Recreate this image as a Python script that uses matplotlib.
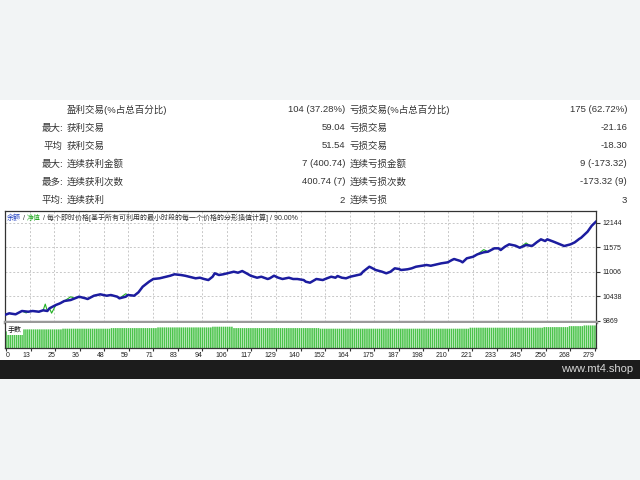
import numpy as np
import matplotlib
matplotlib.use("Agg")
import matplotlib.pyplot as plt
from matplotlib.patches import Rectangle

plt.rcParams['font.family'] = ['Liberation Sans', 'Noto Sans CJK SC', 'DejaVu Sans']

# ---------------- data ----------------
row_prefix = ["", "最大:", "平均", "最大:", "最多:", "平均:"]
left_label = ["盈利交易(%占总百分比)", "获利交易", "获利交易", "连续获利金额", "连续获利次数", "连续获利"]
left_value = ["104 (37.28%)", "59.04", "51.54", "7 (400.74)", "400.74 (7)", "2"]
right_label = ["亏损交易(%占总百分比)", "亏损交易", "亏损交易", "连续亏损金额", "连续亏损次数", "连续亏损"]
right_value = ["175 (62.72%)", "-21.16", "-18.30", "9 (-173.32)", "-173.32 (9)", "3"]

trade_idx = [0, 2, 5, 8, 11, 13, 16, 18, 20, 21, 24, 26, 28, 31, 33, 35, 38, 39, 42, 45,
             48, 50, 53, 54, 57, 58, 61, 63, 65, 68, 70, 73, 76, 78, 80, 83, 85, 87, 90, 92,
             94, 96, 98, 99, 101, 103, 105, 108, 110, 112, 114, 116, 119, 121, 124, 125, 127, 129, 131, 134,
             136, 138, 141, 142, 144, 147, 150, 152, 154, 156, 157, 159, 161, 163, 165, 168, 169, 172, 173, 175,
             178, 180, 182, 184, 186, 187, 190, 192, 194, 197, 199, 201, 204, 206, 209, 211, 212, 215, 216, 218,
             221, 223, 226, 228, 231, 233, 234, 236, 238, 241, 243, 246, 248, 249, 251, 253, 255, 256, 259, 262,
             264, 267, 269, 271, 272, 275, 277, 279]
balance = [10000, 10036, 10013, 10090, 10073, 10090, 10073, 10106, 10090, 10152, 10229, 10268, 10322, 10345, 10384, 10422, 10384, 10368, 10445, 10477,
           10445, 10461, 10422, 10384, 10422, 10461, 10445, 10524, 10654, 10770, 10833, 10849, 10886, 10909, 10942, 10926, 10909, 10886, 10849, 10863,
           10833, 10809, 10886, 10965, 10926, 10942, 10965, 11002, 10979, 11018, 10965, 10909, 10863, 10886, 10833, 10849, 10909, 10863, 10833, 10863,
           10833, 10833, 10809, 10770, 10747, 10833, 10809, 10849, 10886, 10863, 10902, 10863, 10849, 10886, 10909, 10942, 11002, 11118, 11095, 11042,
           11002, 10965, 11002, 11081, 11065, 11042, 11058, 11081, 11118, 11141, 11158, 11141, 11174, 11197, 11220, 11274, 11297, 11251, 11220, 11313,
           11350, 11406, 11453, 11467, 11545, 11545, 11506, 11583, 11638, 11606, 11559, 11622, 11606, 11606, 11685, 11754, 11715, 11754, 11699, 11638,
           11599, 11638, 11685, 11761, 11792, 11931, 12070, 12165]

equity_idx = [10, 19, 22, 31, 57, 226, 246]
equity_val = [10045, 10250, 10040, 10420, 10490, 11515, 11670]

lot_start = [0, 7, 27, 50, 72, 98, 108, 149, 220, 255, 267, 274]
lot_size = [0.17, 0.19, 0.197, 0.203, 0.21, 0.217, 0.203, 0.197, 0.207, 0.213, 0.223, 0.23]
n_trades = 280

x_tick_labels = ["0", "13", "25", "36", "48", "59", "71", "83", "94", "106", "117", "129", "140",
                 "152", "164", "175", "187", "198", "210", "221", "233", "245", "256", "268", "279"]
y_ticks = [9869, 10438, 11006, 11575, 12144]

header_parts = [("余额", "#2040c0"), (" / ", "#333333"), ("净值", "#22aa22"),
                (" / 每个即时价格[基于所有可利用的最小时段的每一个价格的分形插值计算] / 90.00%", "#333333")]

# ---------------- figure ----------------
W, H = 640, 480
fig = plt.figure(figsize=(6.4, 4.8), dpi=100)
fig.patch.set_facecolor("#f2f4f5")

def fx(x):
    return x / W

def fy(y):
    return 1 - y / H

fig.add_artist(Rectangle((0, fy(360)), 1, fy(100) - fy(360), transform=fig.transFigure,
                         facecolor="white", edgecolor="none", zorder=0))
fig.add_artist(Rectangle((0, fy(379)), 1, fy(360) - fy(379), transform=fig.transFigure,
                         facecolor="#1c1c1c", edgecolor="none", zorder=0))
fig.text(fx(633), fy(369), "www.mt4.shop", ha="right", va="center", fontsize=8, color="#d8d8d8")

# table
row_y = [110, 128, 146, 164, 182, 200]
tc = "#333333"
tfs = 6.8
for i, y in enumerate(row_y):
    if row_prefix[i]:
        fig.text(fx(63), fy(y), row_prefix[i], ha="right", va="center", fontsize=tfs, color=tc)
    fig.text(fx(67), fy(y), left_label[i], ha="left", va="center", fontsize=tfs, color=tc)
    fig.text(fx(345), fy(y), left_value[i], ha="right", va="center", fontsize=tfs, color=tc)
    fig.text(fx(350), fy(y), right_label[i], ha="left", va="center", fontsize=tfs, color=tc)
    fig.text(fx(627), fy(y), right_value[i], ha="right", va="center", fontsize=tfs, color=tc)

# main balance chart
ax = fig.add_axes([fx(5), fy(321.5), fx(591), (321.5 - 211) / H])
ax.set_facecolor("white")
bal = dict(zip(trade_idx, balance))
eq = dict(bal)
eq.update(dict(zip(equity_idx, equity_val)))
eq_x = sorted(eq)
eq_y = [eq[k] for k in eq_x]
ax.plot(eq_x, eq_y, color="#22b022", lw=0.8, zorder=3)
ax.plot(trade_idx, balance, color="#1c1ca0", lw=1.8, zorder=4)
ax.set_xlim(0, n_trades - 1)
ax.set_ylim(9846, 12412)
grid_pos = [k * (n_trades - 1) / 24 for k in range(1, 24)]
ax.set_xticks(grid_pos)
ax.set_yticks(y_ticks)
ax.set_yticklabels([str(v) for v in y_ticks])
ax.grid(True, color="#c8c8c8", linestyle=(0, (2, 2)), lw=0.7)
ax.tick_params(axis="x", length=0, labelbottom=False)
ax.yaxis.tick_right()
ax.tick_params(axis="y", direction="out", length=3, labelsize=5, pad=1.5, color="#333333",
               labelcolor="#222222")
for s in ["left", "top", "right"]:
    ax.spines[s].set_color("#333333")
    ax.spines[s].set_linewidth(0.9)
ax.spines["bottom"].set_color("#9a9a9a")
ax.spines["bottom"].set_linewidth(2.5)

# header text
renderer = fig.canvas.get_renderer()
xpos = fx(7)
for txt, col in header_parts:
    t = fig.text(xpos, fy(218), txt, ha="left", va="center", fontsize=5, color=col)
    bb = t.get_window_extent(renderer=renderer)
    xpos = bb.x1 / W

# volume panel
ax2 = fig.add_axes([fx(5), fy(348), fx(591), (348 - 322.5) / H])
counts = np.diff(lot_start + [n_trades])
lots = np.repeat(lot_size, counts)
bars = ax2.bar(np.arange(n_trades), lots, width=0.75, color="#4cc44c", edgecolor="none")
for b in bars:
    b.set_snap(False)
ax2.set_xlim(-0.5, n_trades - 0.5)
ax2.set_ylim(0, 0.26)
ax2.set_yticks([])
tick_pos = [0] + [k * (n_trades - 1) / 24 for k in range(1, 25)]
ax2.set_xticks(tick_pos)
ax2.set_xticklabels(x_tick_labels)
ax2.tick_params(axis="x", direction="out", length=2, labelsize=5, pad=1, color="#333333",
                labelcolor="#222222")
for i, lab in enumerate(ax2.get_xticklabels()):
    lab.set_ha("left" if i == 0 else "right")
for s in ["left", "right", "bottom"]:
    ax2.spines[s].set_color("#333333")
    ax2.spines[s].set_linewidth(0.9)
ax2.spines["top"].set_visible(False)
fig.text(fx(8), fy(330.5), "手数", ha="left", va="center", fontsize=5, color="#111111",
         bbox=dict(facecolor="white", edgecolor="none", pad=0.5))

fig.savefig("out.png", dpi=100, facecolor=fig.get_facecolor())
